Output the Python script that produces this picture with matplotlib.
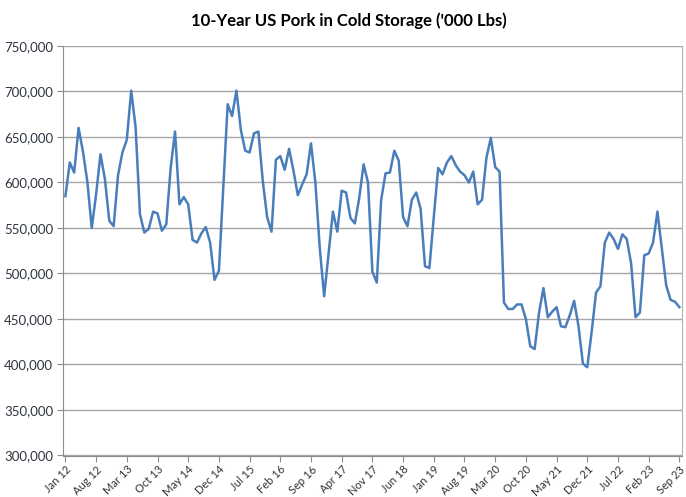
import matplotlib
matplotlib.use("Agg")
import matplotlib.pyplot as plt
import numpy as np
from matplotlib.ticker import FuncFormatter

# monthly pork in cold storage, '000 lbs (read in thousands)
y2012 = [585, 622, 611, 660, 634, 601, 550, 587, 631, 604, 558, 552]
y2013 = [608, 633, 647, 701, 661, 565, 545, 549, 568, 566, 547, 554]
y2014 = [616, 656, 576, 584, 576, 537, 534, 544, 551, 534, 493, 503]
y2015 = [595, 686, 673, 701, 658, 635, 633, 654, 656, 602, 562, 546]
y2016 = [625, 629, 614, 637, 613, 586, 598, 609, 643, 600, 528, 475]
y2017 = [522, 568, 546, 591, 589, 561, 555, 583, 620, 600, 502, 490]
y2018 = [581, 610, 611, 635, 624, 562, 552, 581, 589, 571, 508, 506]
y2019 = [562, 616, 609, 622, 629, 619, 612, 608, 600, 612, 576, 581]
y2020 = [627, 649, 617, 612, 468, 461, 461, 466, 466, 450, 420, 417]
y2021 = [457, 484, 452, 458, 463, 442, 441, 454, 470, 442, 401, 397]
y2022 = [436, 479, 486, 534, 545, 538, 527, 543, 538, 511, 452, 457]
y2023 = [520, 522, 534, 568, 527, 487, 471, 469, 463]

tick_labels = ["Jan 12", "Aug 12", "Mar 13", "Oct 13", "May 14", "Dec 14",
               "Jul 15", "Feb 16", "Sep 16", "Apr 17", "Nov 17", "Jun 18",
               "Jan 19", "Aug 19", "Mar 20", "Oct 20", "May 21", "Dec 21",
               "Jul 22", "Feb 23", "Sep 23"]
tick_step = 7


def main():
    values = np.concatenate([y2012, y2013, y2014, y2015, y2016, y2017,
                             y2018, y2019, y2020, y2021, y2022, y2023]) * 1000
    months = np.arange(len(values))

    fig = plt.figure(figsize=(6.86, 4.97), dpi=100)
    ax = fig.add_axes([63 / 686, 1 - 455.5 / 497, 619 / 686, 409.5 / 497])

    ax.plot(months, values, color="#4a7ebb", linewidth=1.8, zorder=3)

    ax.set_ylim(300000, 750000)
    ax.set_yticks(np.arange(300000, 750001, 50000))
    ax.yaxis.set_major_formatter(FuncFormatter(lambda v, p: f"{int(v):,}"))
    ax.set_xlim(-0.55, len(values) - 1 + 0.6)
    ax.set_xticks(np.arange(0, len(tick_labels) * tick_step, tick_step))
    ax.set_xticklabels(tick_labels, rotation=45, ha="right",
                       rotation_mode="anchor")

    ax.grid(True, axis="y", color="#a6a6a6", linewidth=1.0)
    ax.set_axisbelow(True)
    ax.spines["top"].set_visible(False)
    ax.spines["right"].set_color("#b0b0b0")
    ax.spines["left"].set_color("#8c8c8c")
    ax.spines["bottom"].set_color("#8c8c8c")
    ax.tick_params(axis="y", length=4, color="#8c8c8c", labelsize=9.5,
                   labelcolor="#2e3440", pad=3)
    ax.tick_params(axis="x", length=4, color="#8c8c8c", labelsize=8,
                   labelcolor="#333333", pad=2)
    for lab in ax.get_xticklabels() + ax.get_yticklabels():
        lab.set_family("Lato")

    fig.text(349 / 686, 1 - 21 / 497,
             "10-Year US Pork in Cold Storage ('000 Lbs)",
             ha="center", va="center", fontsize=12, fontweight="bold",
             family="Lato")

    fig.savefig("out.png", dpi=100)


if __name__ == "__main__":
    main()
